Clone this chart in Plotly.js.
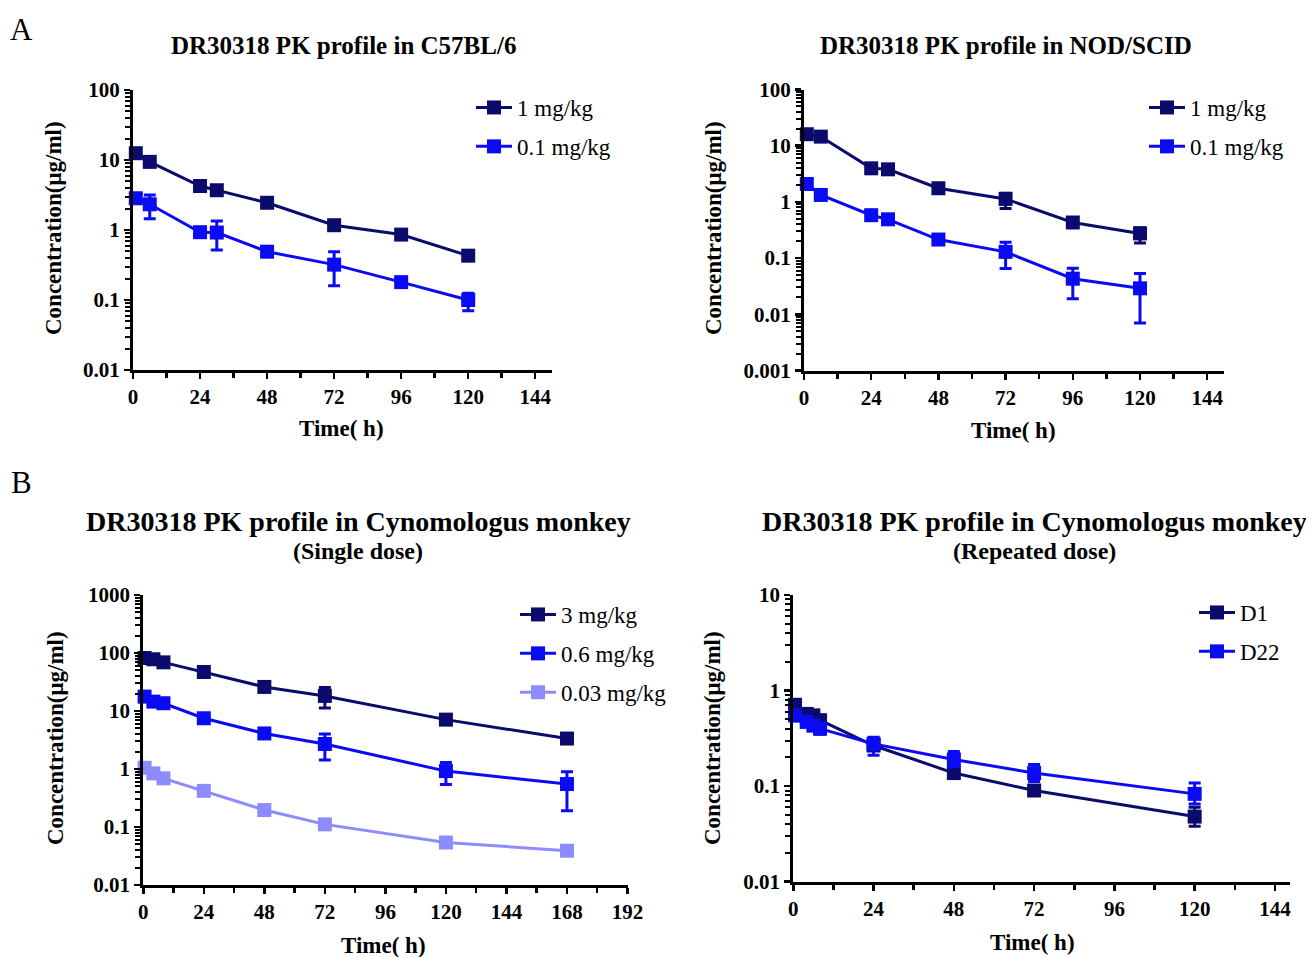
<!DOCTYPE html>
<html>
<head>
<meta charset="utf-8">
<script src="https://cdn.plot.ly/plotly-3.0.1.min.js"></script>
<style>html,body{margin:0;padding:0;background:#fff;}#chart{width:1306px;height:957px;}</style>
</head>
<body>
<div id="chart"></div>
<script>
// ---------------- DATA ----------------
// Panel A left: C57BL/6
const tC57 = [1, 6, 24, 30, 48, 72, 96, 120];
const c57_1mg = [12.5, 9.4, 4.25, 3.7, 2.45, 1.17, 0.86, 0.43];
const c57_1mg_up = [1.5, 0.6, 0.35, 0.3, 0.2, 0.1, 0.07, 0.03];
const c57_1mg_dn = [1.5, 0.6, 0.35, 0.3, 0.2, 0.1, 0.07, 0.03];
const c57_01mg = [2.84, 2.33, 0.93, 0.92, 0.49, 0.32, 0.18, 0.10];
const c57_01mg_up = [0.2, 0.83, 0.05, 0.43, 0.03, 0.17, 0.01, 0.025];
const c57_01mg_dn = [0.2, 0.88, 0.05, 0.40, 0.03, 0.16, 0.01, 0.03];

// Panel A right: NOD/SCID
const tNOD = [1, 6, 24, 30, 48, 72, 96, 120];
const nod_1mg = [16, 14.5, 3.96, 3.8, 1.75, 1.13, 0.43, 0.275];
const nod_1mg_up = [2, 1, 0.3, 0.3, 0.1, 0.3, 0.05, 0.07];
const nod_1mg_dn = [2, 1, 0.3, 0.3, 0.1, 0.37, 0.05, 0.09];
const nod_01mg = [2.08, 1.33, 0.58, 0.49, 0.214, 0.129, 0.043, 0.029];
const nod_01mg_up = [0.2, 0.1, 0.08, 0.08, 0.02, 0.063, 0.023, 0.024];
const nod_01mg_dn = [0.2, 0.1, 0.08, 0.08, 0.02, 0.064, 0.024, 0.022];

// Panel B left: Cynomolgus monkey, single dose
const tSingle = [0.5, 4, 8, 24, 48, 72, 120, 168];
const cyno_3mg = [82, 78, 69, 47, 26, 18.2, 7.1, 3.35];
const cyno_3mg_up = [8, 5, 5, 3, 3, 7.2, 0.5, 0.3];
const cyno_3mg_dn = [8, 5, 5, 3, 3, 6.9, 0.5, 0.3];
const cyno_06mg = [17.7, 14.5, 13.6, 7.5, 4.1, 2.7, 0.92, 0.55];
const cyno_06mg_up = [2, 1, 1, 0.5, 0.5, 1.3, 0.38, 0.35];
const cyno_06mg_dn = [2, 1, 1, 0.5, 0.5, 1.27, 0.38, 0.36];
const cyno_003mg = [1.05, 0.84, 0.69, 0.42, 0.196, 0.111, 0.054, 0.039];
const cyno_003mg_up = [0.05, 0.04, 0.03, 0.02, 0.01, 0.005, 0.003, 0.002];
const cyno_003mg_dn = [0.05, 0.04, 0.03, 0.02, 0.01, 0.005, 0.003, 0.002];

// Panel B right: Cynomolgus monkey, repeated dose
const tRepeat = [0.5, 4, 6, 8, 24, 48, 72, 120];
const rep_D1 = [0.71, 0.57, 0.55, 0.49, 0.266, 0.137, 0.09, 0.048];
const rep_D1_up = [0.08, 0.05, 0.05, 0.04, 0.02, 0.012, 0.008, 0.012];
const rep_D1_dn = [0.08, 0.05, 0.05, 0.04, 0.02, 0.012, 0.008, 0.01];
const rep_D22 = [0.55, 0.47, 0.43, 0.40, 0.277, 0.19, 0.137, 0.083];
const rep_D22_up = [0.07, 0.05, 0.05, 0.05, 0.048, 0.04, 0.031, 0.025];
const rep_D22_dn = [0.07, 0.05, 0.05, 0.05, 0.067, 0.03, 0.025, 0.018];

// Tick labels
const xTicks120 = [0, 24, 48, 72, 96, 120, 144];
const xTicks192 = [0, 24, 48, 72, 96, 120, 144, 168, 192];
const yTicksA1 = [0.01, 0.1, 1, 10, 100];
const yTextA1 = ['0.01', '0.1', '1', '10', '100'];
const yTicksA2 = [0.001, 0.01, 0.1, 1, 10, 100];
const yTextA2 = ['0.001', '0.01', '0.1', '1', '10', '100'];
const yTicksB1 = [0.01, 0.1, 1, 10, 100, 1000];
const yTextB1 = ['0.01', '0.1', '1', '10', '100', '1000'];
const yTicksB2 = [0.01, 0.1, 1, 10];
const yTextB2 = ['0.01', '0.1', '1', '10'];

// ---------------- STYLE ----------------
const NAVY = '#0b0b6e';
const BLUE = '#0a0af5';
const LIGHT = '#8c8cff';
const SERIF = 'Liberation Serif, Times New Roman, serif';
const W = 1306, H = 957;
const px = (a, b) => [a / W, b / W];
const py = (top, bottom) => [1 - bottom / H, 1 - top / H];
const X = v => v / W;
const Y = v => 1 - v / H;

function series(x, y, up, dn, name, color, xa, ya, leg, grp) {
  return {
    x: x, y: y, name: name, type: 'scatter', mode: 'lines+markers',
    xaxis: xa, yaxis: ya, legend: leg, legendgroup: grp, cliponaxis: false,
    line: {color: color, width: 3},
    marker: {symbol: 'square', size: 14, color: color},
    error_y: {type: 'data', symmetric: false, array: up, arrayminus: dn,
              color: color, thickness: 3, width: 6, visible: true}
  };
}

const data = [
  series(tC57, c57_1mg, c57_1mg_up, c57_1mg_dn, '1 mg/kg', NAVY, 'x', 'y', 'legend', 'a1'),
  series(tC57, c57_01mg, c57_01mg_up, c57_01mg_dn, '0.1 mg/kg', BLUE, 'x', 'y', 'legend', 'a2'),
  series(tNOD, nod_1mg, nod_1mg_up, nod_1mg_dn, '1 mg/kg', NAVY, 'x2', 'y2', 'legend2', 'b1'),
  series(tNOD, nod_01mg, nod_01mg_up, nod_01mg_dn, '0.1 mg/kg', BLUE, 'x2', 'y2', 'legend2', 'b2'),
  series(tSingle, cyno_3mg, cyno_3mg_up, cyno_3mg_dn, '3 mg/kg', NAVY, 'x3', 'y3', 'legend3', 'c1'),
  series(tSingle, cyno_06mg, cyno_06mg_up, cyno_06mg_dn, '0.6 mg/kg', BLUE, 'x3', 'y3', 'legend3', 'c2'),
  series(tSingle, cyno_003mg, cyno_003mg_up, cyno_003mg_dn, '0.03 mg/kg', LIGHT, 'x3', 'y3', 'legend3', 'c3'),
  series(tRepeat, rep_D1, rep_D1_up, rep_D1_dn, 'D1', NAVY, 'x4', 'y4', 'legend4', 'd1'),
  series(tRepeat, rep_D22, rep_D22_up, rep_D22_dn, 'D22', BLUE, 'x4', 'y4', 'legend4', 'd2')
];

const tickFont = {family: SERIF, size: 21, color: '#000', weight: 'bold'};

function xAxis(domain, range, ticks, anchor) {
  return {
    domain: domain, range: range, anchor: anchor, type: 'linear',
    tickmode: 'array', tickvals: ticks, ticktext: ticks.map(String),
    showline: true, linecolor: '#000', linewidth: 3,
    ticks: 'outside', ticklen: 6, tickwidth: 2.5, tickcolor: '#000',
    minor: {dtick: 12, tick0: 0, ticks: 'outside', ticklen: 5, tickwidth: 2.5, tickcolor: '#000', showgrid: false},
    showgrid: false, zeroline: false, tickfont: tickFont, fixedrange: true
  };
}
function yAxis(domain, range, ticks, text, anchor) {
  return {
    domain: domain, range: range, anchor: anchor, type: 'log',
    tickmode: 'array', tickvals: ticks, ticktext: text,
    showline: true, linecolor: '#000', linewidth: 3,
    ticks: 'outside', ticklen: 6, tickwidth: 2.5, tickcolor: '#000',
    minor: {dtick: 'D1', ticks: 'outside', ticklen: 5, tickwidth: 2, tickcolor: '#000', showgrid: false},
    showgrid: false, zeroline: false, tickfont: tickFont, fixedrange: true
  };
}
function legendAt(xLeft, yTop) {
  return {x: X(xLeft), y: Y(yTop), xanchor: 'left', yanchor: 'top',
          bgcolor: 'rgba(0,0,0,0)', borderwidth: 0, itemwidth: 36,
          font: {family: SERIF, size: 23, color: '#000'},
          traceorder: 'grouped', tracegroupgap: 6, itemclick: false, itemdoubleclick: false};
}

const titleFont = {family: SERIF, size: 25, color: '#000', weight: 'bold'};
const bigTitleFont = {family: SERIF, size: 28, color: '#000', weight: 'bold'};
const subFont = {family: SERIF, size: 24, color: '#000', weight: 'bold'};
const axTitleFont = {family: SERIF, size: 23, color: '#000', weight: 'bold'};

function ann(text, x, y, font, extra) {
  return Object.assign({text: text, x: X(x), y: Y(y), xref: 'paper', yref: 'paper',
                        showarrow: false, font: font, xanchor: 'center', yanchor: 'middle'}, extra || {});
}

const annotations = [
  ann('A', 21, 30, {family: SERIF, size: 31, color: '#000'}),
  ann('B', 21, 483, {family: SERIF, size: 31, color: '#000'}),
  ann('DR30318 PK profile in C57BL/6', 343, 45, titleFont),
  ann('DR30318 PK profile in NOD/SCID', 1006, 45, titleFont),
  ann('DR30318 PK profile in Cynomologus monkey', 358, 521, bigTitleFont),
  ann('(Single dose)', 358, 551, subFont),
  ann('DR30318 PK profile in Cynomologus monkey', 1034, 521, bigTitleFont),
  ann('(Repeated dose)', 1034, 551, subFont),
  ann('Concentration(μg/ml)', 53, 228, axTitleFont, {textangle: -90}),
  ann('Concentration(μg/ml)', 713, 228, axTitleFont, {textangle: -90}),
  ann('Concentration(μg/ml)', 55, 738, axTitleFont, {textangle: -90}),
  ann('Concentration(μg/ml)', 712, 738, axTitleFont, {textangle: -90}),
  ann('Time( h)', 341, 428, axTitleFont),
  ann('Time( h)', 1013, 430, axTitleFont),
  ann('Time( h)', 383, 945, axTitleFont),
  ann('Time( h)', 1032, 942, axTitleFont)
];

const layout = {
  width: W, height: H, margin: {l: 0, r: 0, t: 0, b: 0},
  paper_bgcolor: '#fff', plot_bgcolor: '#fff', showlegend: true,
  xaxis: xAxis(px(133, 552), [0, 150], xTicks120, 'y'),
  yaxis: yAxis(py(90, 370), [-2, 2], yTicksA1, yTextA1, 'x'),
  xaxis2: xAxis(px(804, 1224), [0, 150], xTicks120, 'y2'),
  yaxis2: yAxis(py(89.5, 370.5), [-3, 2], yTicksA2, yTextA2, 'x2'),
  xaxis3: xAxis(px(143.3, 628), [0, 192.2], xTicks192, 'y3'),
  yaxis3: yAxis(py(595, 885), [-2, 3], yTicksB1, yTextB1, 'x3'),
  xaxis4: xAxis(px(793.3, 1290), [0, 148.5], xTicks120, 'y4'),
  yaxis4: yAxis(py(595, 881.7), [-2, 1], yTicksB2, yTextB2, 'x4'),
  legend: legendAt(471, 86),
  legend2: legendAt(1144, 86),
  legend3: legendAt(515, 593),
  legend4: legendAt(1194, 591),
  annotations: annotations
};

Plotly.newPlot('chart', data, layout, {staticPlot: true, displayModeBar: false});
</script>
</body>
</html>
